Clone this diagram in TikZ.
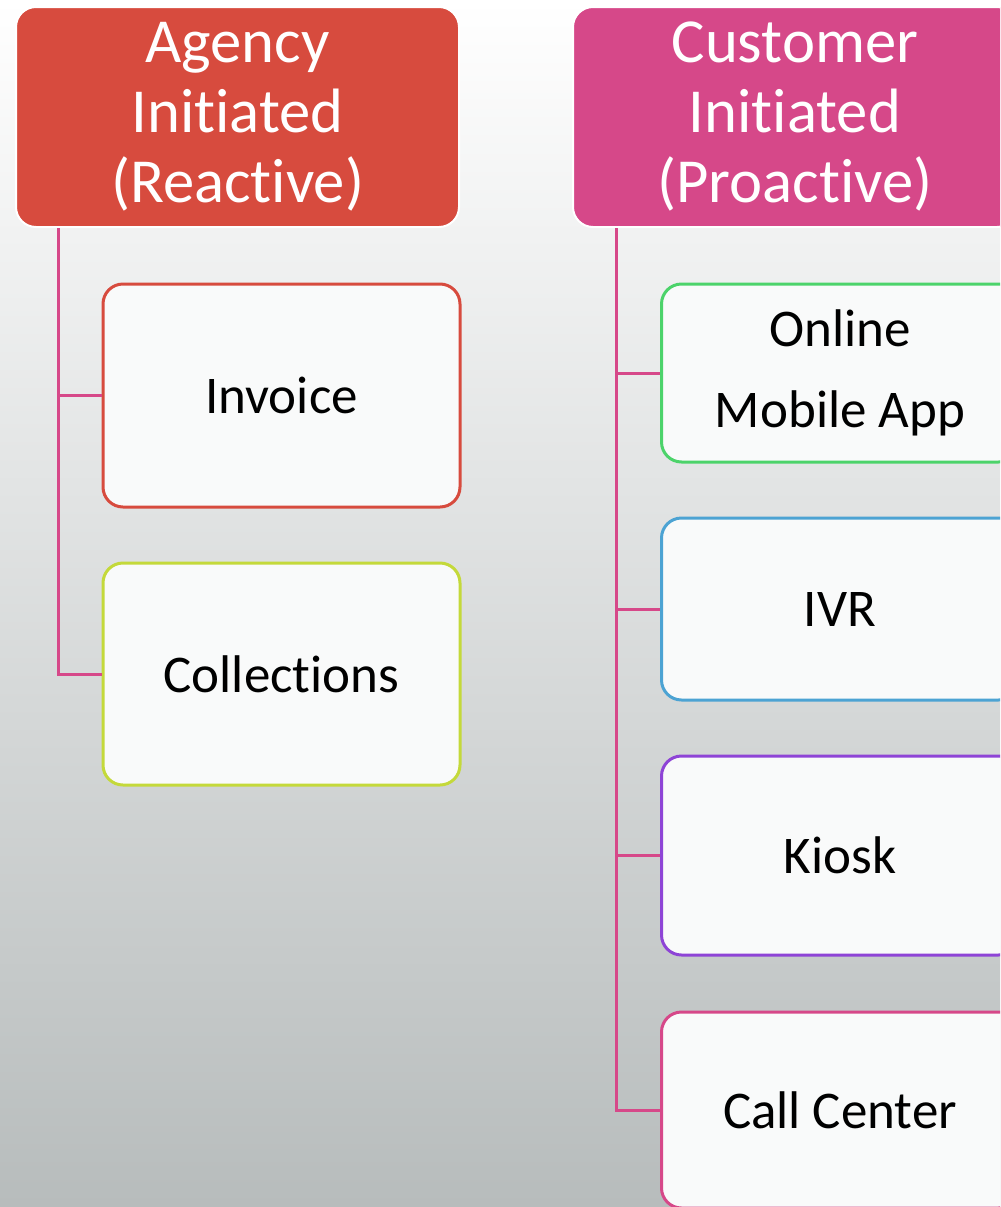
\documentclass[tikz,border=0pt]{standalone}
\usepackage{fontspec}
\setmainfont{Carlito}[Ligatures=NoCommon]
\usetikzlibrary{calc}
\newdimen\pxu
\pxu=0.75pt
\definecolor{agencyred}{RGB}{215,75,62}
\definecolor{custpink}{RGB}{214,72,137}
\definecolor{onlinegreen}{RGB}{76,211,106}
\definecolor{ivrblue}{RGB}{76,163,211}
\definecolor{kioskpurple}{RGB}{142,68,214}
\definecolor{collime}{RGB}{196,217,58}
\definecolor{boxfill}{RGB}{249,250,250}

\begin{document}
\begin{tikzpicture}[x=0.75pt,y=-0.75pt]
                        \tikzstyle{head}=[draw=white, line width=2\pxu, rounded corners=20\pxu, text=white, align=center,
                            minimum width=444\pxu, minimum height=220\pxu, inner sep=0pt,
                            font=\fontsize{47pt}{52.5pt}\selectfont]
                        \tikzstyle{item}=[line width=3\pxu, fill=boxfill, rounded corners=20\pxu, align=center,
                            minimum width=357\pxu, inner sep=0pt, font=\fontsize{39.75pt}{60.75pt}\selectfont]
                        \tikzstyle{conn}=[draw=custpink, line width=3\pxu]
                        \useasboundingbox (0,0) rectangle (1000,1207);
                        \clip (0,0) rectangle (1000,1207);
                        \shade[top color=white, bottom color={rgb,255:red,183;green,188;blue,188}] (0,0) rectangle (1000,1207);
                        \node[head, fill=agencyred, minimum width=443\pxu] (agency) at (237.5,117) {Agency\\Initiated\\(Reactive)};
                        \node[head, fill=custpink] (customer) at (795,117) {Customer\\Initiated\\(Proactive)};
                        \node[item, draw=agencyred, minimum height=223\pxu] (invoice) at (281.5,395.5) {Invoice};
                        \node[item, draw=collime, minimum height=222\pxu] (collections) at (281.5,674) {Collections};
                        \node[item, draw=onlinegreen, minimum height=178\pxu] (online) at (840,373) {Online\\Mobile App};
                        \node[item, draw=ivrblue, minimum height=182\pxu] (ivr) at (840,609) {IVR};
                        \node[item, draw=kioskpurple, minimum height=199\pxu] (kiosk) at (840,855.5) {Kiosk};
                        \node[item, draw=custpink, minimum height=196\pxu] (callcenter) at (840,1110) {Call Center};
                        \coordinate (atrunk) at ($(agency.south west)+(43,0)$);
                        \coordinate (ctrunk) at ($(customer.south west)+(44,0)$);
                        \draw[conn] (atrunk) |- (collections.west);
                        \draw[conn] (atrunk) |- (invoice.west);
                        \draw[conn] (ctrunk) |- (callcenter.west);
                        \draw[conn] (ctrunk) |- (online.west);
                        \draw[conn] (ctrunk) |- (ivr.west);
                        \draw[conn] (ctrunk) |- (kiosk.west);
                    \end{tikzpicture}
\end{document}
